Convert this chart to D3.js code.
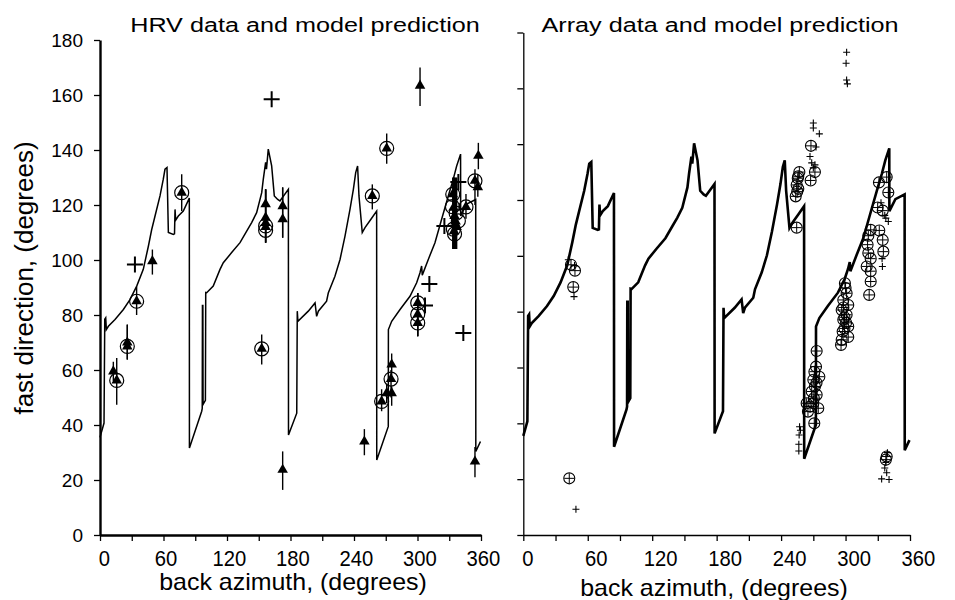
<!DOCTYPE html>
<html lang="en">
<head>
    <meta charset="utf-8">
    <script src="https://d3js.org/d3.v7.min.js"></script>
    <style>
        body { margin: 0; background: #fff; }
        text { font-family: "Liberation Sans", Arial, sans-serif; fill: #000; }
        .model { fill: none; stroke: #000; stroke-linejoin: miter; }
        .axis path, .axis line { stroke: #000; }
    </style>
</head>
<body>
<script>

    // model prediction: back azimuth (deg) vs fast direction (deg)
    const model = [
        [0, 35.5], [3.8, 40.7], [4.5, 78.5], [5.4, 79], [6, 74.7], [7.9, 75.9], [14.2, 78.4],
        [22.1, 82], [28.3, 85.6], [34.7, 90.5], [40.9, 96.6], [45.7, 105], [48.8, 111],
        [52, 116], [56.7, 123.3], [59.8, 129.4], [61.4, 133], [63.3, 133.6], [64.6, 110],
        [69.3, 109.3], [70.4, 109.5], [70.9, 118.4], [71.5, 114.5], [74, 116], [78.7, 117.8],
        [84.4, 122.5], [84.5, 31.6], [96.1, 45], [96.6, 46], [96.8, 83.5], [97.2, 83.5],
        [97.4, 47.5], [99.6, 49], [99.9, 88.2], [100.8, 88.1], [107, 90.5], [113.4, 96.6],
        [116.5, 99], [124.4, 102.7], [132.3, 106.3], [138.6, 110.5], [143.3, 113.6],
        [148, 117.2], [152.8, 124.5], [154.3, 129.4], [156.5, 135.5], [157.3, 133],
        [159, 140.3], [162.2, 134.2], [164.7, 123.3], [167.9, 122], [170, 121.5],
        [178, 125.7], [178.1, 36.4], [185.9, 44.3], [186.4, 81.4], [187, 77.7],
        [196.8, 81.4], [203.2, 84.4], [204.7, 79.5], [206.3, 81.4], [214.1, 85],
        [215.7, 88], [222, 94.1], [226.8, 100.2], [231.5, 108.7], [236.2, 118.4],
        [239.4, 125.7], [241.6, 131.8], [243.4, 134.2], [244.7, 123.3], [247.8, 110],
        [250.4, 111.8], [256, 114.8], [261.4, 117.8], [261.5, 27.3], [272.4, 39.5],
        [272.5, 74.7], [275.6, 77.7], [283.5, 82], [292.9, 86.8], [299.2, 91.7],
        [302.3, 95.3], [303.9, 97.8], [304.5, 94.5], [310.2, 100.2], [316.5, 106.3],
        [322.8, 114.8], [329.1, 123.3], [333.8, 129.4], [337, 134.2], [340.7, 138.5],
        [340.8, 116], [346.4, 120.3], [355, 122], [355.1, 30.4], [359.5, 34]
    ];

    // HRV data: triangles with error bars [baz, fast, low, high]
    const hrvTriangles = [
        [12.6, 59.5, 56, 63], [15.8, 56.2, 47.4, 64.4], [25.8, 70, 63.8, 76.5],
        [25.8, 68.6, 63.8, 76.5], [34.6, 85, 80, 90.3], [49.5, 99.6, 94.7, 103.8],
        [77.2, 124.5, 117.8, 131.2], [152.8, 67.7, 62, 72.9],
        [156.5, 120.3, 106.3, 125.7], [156.5, 115.4, 106.3, 125.7],
        [156.5, 113.5, 106.3, 125.7], [156.5, 112, 106.3, 125.7],
        [172.6, 119.6, 108.1, 126.4], [172.6, 114.8, 108.1, 126.4],
        [172.6, 23.7, 16.4, 30.4], [249.8, 34, 29, 38.5], [257.3, 123.3, 118.4, 127.5],
        [270.9, 140.6, 135, 146], [266.1, 48.6, 45, 53], [270.9, 51.6, 48, 55],
        [275, 56.7, 50, 60], [275.6, 62, 58, 66], [275.6, 51.6, 47, 54],
        [300.2, 84.4, 72.3, 88], [300.2, 80.2, 72.3, 88], [300.2, 77.1, 72.3, 88],
        [302.4, 163.4, 156, 170], [333.3, 123.9, 104, 130], [334, 119, 104, 130],
        [335, 116, 104, 130], [336, 114, 104, 130], [337, 112, 104, 130],
        [334.5, 110.5, 104, 130], [345.8, 119.3, 115, 124], [354.3, 128.8, 120, 133],
        [357.5, 137.9, 133, 142.6], [357, 126.5, 123, 131], [354.3, 26.7, 21, 32]
    ];

    // HRV data: circled measurements [baz, fast]
    const hrvCircles = [
        [15.8, 56.2], [25.8, 68.6], [34.6, 85], [77.2, 124.5], [152.8, 67.7],
        [156.5, 112.4], [156.5, 110.8], [257.3, 123.3], [270.9, 140.6], [266.1, 48.6],
        [275, 56.7], [300.2, 84.4], [300.2, 80.2], [300.2, 77.1], [333.3, 123.9],
        [333, 119.4], [345.8, 119.3], [338.6, 114.2], [333.9, 111.2], [335, 109.5],
        [354.3, 128.8], [336.5, 117]
    ];

    // HRV data: crosses [baz, fast]
    const hrvCrosses = [
        [33, 98.4], [162.2, 158.5], [311.2, 91.3], [307.1, 83.5], [343.3, 73.5],
        [338.6, 128.4], [325.4, 112.4]
    ];

    // Array data: circled measurements [baz, fast]
    const arrayCircles = [
        [44.4, 96.8], [48.1, 94.7], [46.5, 88.8], [42.8, 20.3],
        [257, 130], [256, 128.5], [255.5, 127.8], [254.5, 125.4], [256, 124], [255, 123],
        [253.6, 121.3], [254.5, 110.1], [267.8, 139.4], [271.5, 130], [267.5, 127],
        [273.1, 65.9], [272.5, 60.3], [271, 58.5], [275.6, 56.7], [270, 55.6], [273, 54.5],
        [271.5, 53.2], [268.5, 51.4], [273.1, 50.2], [270.5, 49], [263.8, 47.2], [270, 47.2],
        [274.6, 45.4], [265, 44.2], [267, 46], [270.9, 40],
        [299.4, 90.2], [300, 88.5], [301, 86.6], [297.9, 84.2], [302.5, 82.4], [296.4, 80.6],
        [301, 78.9], [299, 78], [297.9, 77.1], [302.5, 74.7], [299, 74], [297.3, 72.9],
        [302.5, 70.9], [296.4, 69.9], [295.8, 68.1], [300.5, 76], [298, 81.5],
        [331.1, 126.3], [338.3, 128.2], [339.8, 122.7], [329.9, 117.3], [334.6, 116.2],
        [323.4, 109.3], [331.4, 109.1], [321.2, 107.2], [334.6, 105.7], [320.5, 104],
        [321.2, 101], [335.2, 101.5], [323.4, 99], [319.7, 96.2], [323.4, 94.5],
        [323.4, 90.8], [322, 86], [338.3, 28.1], [337.5, 27]
    ];

    // Array data: crosses [baz, fast]
    const arrayCrosses = [
        [49, 9.2], [41.9, 98.6], [47.7, 96.5], [47.2, 85.4],
        [301, 172.9], [300.5, 169], [301, 163], [301.7, 161.6],
        [270, 147.6], [270, 145.8], [275.6, 143.7], [272.5, 139], [266.9, 135.6],
        [268.5, 133.3], [271.5, 132.6], [270, 131.5],
        [257.2, 38.8], [258, 37.5], [256.8, 35.8], [256.5, 32.5], [256.5, 30.1],
        [339.8, 112.3], [337.5, 113.5], [336.5, 114.5], [333, 119], [334.3, 96.2], [334, 99],
        [339, 29.5], [337.5, 26], [338.3, 22.3], [333.6, 20.1], [340.5, 19.9], [336.5, 24]
    ];

    const xTicks = d3.range(0, 361, 30);
    const yTicks = d3.range(0, 181, 20);

    const svg = d3.select("body").append("svg")
        .attr("width", 955).attr("height", 600);

    const panels = [
        {x: d3.scaleLinear([0, 360], [100, 481]), y: d3.scaleLinear([0, 180], [535, 40]),
         title: "HRV data and model prediction", titleX: 305, axisW: 2.4, lineW: 1.5, yLabels: true,
         tickShift: 2, xLabelX: 293, xLabelY: 590},
        {x: d3.scaleLinear([0, 360], [523.3, 910]), y: d3.scaleLinear([0, 180], [535, 32.5]),
         title: "Array data and model prediction", titleX: 720, axisW: 1.3, lineW: 2.6, yLabels: false,
         tickShift: 8, xLabelX: 714, xLabelY: 596}
    ];

    panels.forEach(function (p) {
        const g = svg.append("g");

        // axes
        const xAxis = g.append("g").attr("class", "axis")
            .attr("transform", "translate(0," + p.y(0) + ")")
            .call(d3.axisBottom(p.x).tickValues(xTicks).tickSize(6).tickSizeOuter(0).tickPadding(9)
                .tickFormat(d => d % 60 === 0 ? d : ""));
        xAxis.select(".domain").attr("stroke-width", p.axisW);
        xAxis.selectAll(".tick line").attr("stroke-width", 1.3);
        xAxis.selectAll("text").attr("font-size", 22).attr("font-family", "Liberation Sans, Arial, sans-serif")
            .attr("transform", d => "translate(" + (d === 0 ? 4 : p.tickShift) + ",0) scale(0.92,1)");

        const yAxis = g.append("g").attr("class", "axis")
            .attr("transform", "translate(" + p.x(0) + ",0)")
            .call(d3.axisLeft(p.y).tickValues(yTicks).tickSize(6).tickSizeOuter(0).tickPadding(11)
                .tickFormat(d => p.yLabels ? d : ""));
        yAxis.select(".domain").attr("stroke-width", p.axisW);
        yAxis.selectAll(".tick line").attr("stroke-width", 1.3);
        yAxis.selectAll("text").attr("font-size", 19).attr("font-family", "Liberation Sans, Arial, sans-serif");

        // model curve
        const line = d3.line().x(d => p.x(d[0])).y(d => p.y(d[1]));
        g.append("path").datum(model).attr("class", "model")
            .attr("stroke-width", p.lineW).attr("d", line);

        // titles
        g.append("text").attr("x", 0).attr("y", 0).attr("text-anchor", "middle")
            .attr("font-size", 21).attr("transform", "translate(" + p.titleX + ",32) scale(1.2,1)")
            .text(p.title);
        g.append("text").attr("x", 0).attr("y", 0).attr("text-anchor", "middle")
            .attr("font-size", 24).attr("transform", "translate(" + p.xLabelX + "," + p.xLabelY + ") scale(1.04,1)")
            .text("back azimuth, (degrees)");
    });

    // y label
    svg.append("text").attr("transform", "translate(33,278) rotate(-90)")
        .attr("text-anchor", "middle").attr("font-size", 26).text("fast direction, (degrees)");

    // HRV markers
    const L = panels[0];
    const hrv = svg.append("g");
    hrv.selectAll("line.err").data(hrvTriangles).enter().append("line")
        .attr("x1", d => L.x(d[0])).attr("x2", d => L.x(d[0]))
        .attr("y1", d => L.y(d[2])).attr("y2", d => L.y(d[3]))
        .attr("stroke", "#000").attr("stroke-width", 1.4);
    hrv.selectAll("circle").data(hrvCircles).enter().append("circle")
        .attr("cx", d => L.x(d[0])).attr("cy", d => L.y(d[1])).attr("r", 7)
        .attr("fill", "none").attr("stroke", "#000").attr("stroke-width", 1.2);
    hrv.selectAll("path.tri").data(hrvTriangles).enter().append("path")
        .attr("transform", d => "translate(" + L.x(d[0]) + "," + L.y(d[1]) + ")")
        .attr("d", d3.symbol(d3.symbolTriangle, 48)).attr("fill", "#000");
    hrv.selectAll("path.cross").data(hrvCrosses).enter().append("path")
        .attr("d", d => {
            const x = L.x(d[0]), y = L.y(d[1]);
            return "M" + (x - 8) + "," + y + "H" + (x + 8) + "M" + x + "," + (y - 8) + "V" + (y + 8);
        })
        .attr("stroke", "#000").attr("stroke-width", 2);

    // Array markers
    const R = panels[1];
    const arr = svg.append("g");
    arr.selectAll("circle").data(arrayCircles).enter().append("circle")
        .attr("cx", d => R.x(d[0])).attr("cy", d => R.y(d[1])).attr("r", 5.5)
        .attr("fill", "none").attr("stroke", "#000").attr("stroke-width", 1.1);
    arr.selectAll("path.ic").data(arrayCircles).enter().append("path")
        .attr("d", d => {
            const x = R.x(d[0]), y = R.y(d[1]);
            return "M" + (x - 5) + "," + y + "H" + (x + 5) + "M" + x + "," + (y - 5) + "V" + (y + 5);
        })
        .attr("stroke", "#000").attr("stroke-width", 1);
    arr.selectAll("path.cross").data(arrayCrosses).enter().append("path")
        .attr("d", d => {
            const x = R.x(d[0]), y = R.y(d[1]);
            return "M" + (x - 3.5) + "," + y + "H" + (x + 3.5) + "M" + x + "," + (y - 3.5) + "V" + (y + 3.5);
        })
        .attr("stroke", "#000").attr("stroke-width", 1.1);

</script>
</body>
</html>
